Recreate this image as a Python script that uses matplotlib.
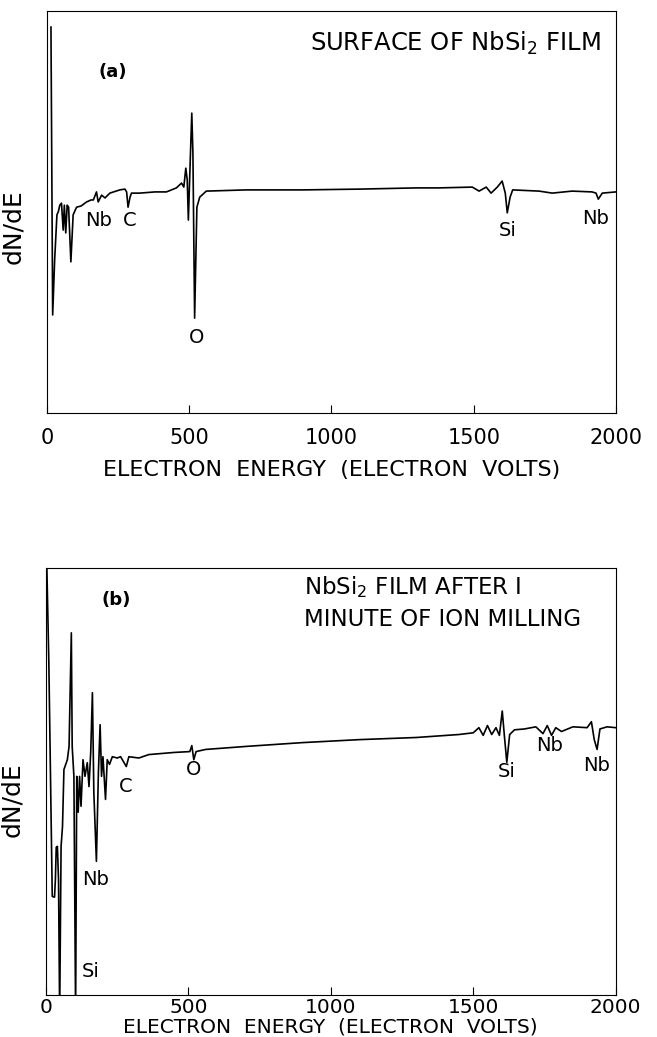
import matplotlib
matplotlib.use("Agg")
import matplotlib.pyplot as plt

# (a) surface of NbSi2 film: energy (eV) and dN/dE (arbitrary units, 0-100)
energy_a = [14, 20, 27, 35, 40, 45, 51, 57, 61, 66, 71, 76, 84, 92, 104, 120, 139, 155,
            163, 174, 180, 192, 204, 221, 256, 274, 280, 285, 292, 297, 326, 380, 420,
            455, 473, 481, 488, 493, 497, 504, 509, 513, 519, 527, 537, 560, 700, 900,
            1100, 1300, 1379, 1495, 1519, 1544, 1561, 1583, 1600, 1611, 1618, 1628,
            1637, 1730, 1776, 1846, 1916, 1930, 1938, 1952, 2000]
dnde_a = [96.0, 24.4, 38.1, 49.3, 50.1, 51.7, 52.2, 45.5, 51.7, 44.8, 51.7, 51.2, 37.6,
          49.3, 51.2, 51.5, 52.5, 53.0, 53.0, 55.0, 52.5, 54.2, 53.5, 54.7, 55.5, 55.7,
          55.0, 51.2, 53.7, 54.7, 54.7, 55.0, 55.0, 56.0, 57.2, 56.2, 60.9, 58.0, 48.0,
          63.7, 74.6, 64.7, 23.6, 51.2, 53.7, 55.2, 55.5, 55.5, 55.7, 56.0, 56.0, 56.2,
          55.2, 56.2, 54.7, 56.2, 57.7, 54.7, 49.8, 53.7, 55.5, 55.2, 54.7, 55.2, 55.0,
          54.7, 53.2, 54.7, 55.0]

# (b) after 1 minute of ion milling
energy_b = [0, 3, 10, 22, 30, 33, 36, 40, 44, 48, 53, 58, 63, 75, 81, 89, 92, 98, 104,
            108, 113, 118, 123, 130, 137, 145, 151, 157, 163, 168, 177, 184, 190, 195,
            200, 209, 215, 223, 233, 250, 262, 282, 291, 326, 361, 450, 505, 512, 519,
            527, 560, 700, 900, 1100, 1300, 1450, 1500, 1520, 1535, 1550, 1565, 1580,
            1592, 1602, 1610, 1618, 1628, 1645, 1680, 1720, 1745, 1760, 1775, 1790, 1810,
            1850, 1900, 1915, 1925, 1935, 1945, 1970, 2000]
dnde_b = [115, 100.2, 77.8, 23.1, 22.9, 27.1, 34.6, 34.8, 27.1, -5, 34.8, 39.5, 52.8,
          55.1, 58.2, 84.8, 58.2, 51.2, -5, 51.2, 42.8, 51.2, 44.2, 55.1, 51.2, 54.4,
          48.8, 56.8, 70.8, 47.4, 31.3, 52.1, 63.3, 51.2, 55.8, 45.8, 55.1, 54.0, 55.8,
          55.5, 55.8, 53.5, 55.8, 55.5, 56.3, 56.8, 57.0, 58.4, 55.1, 57.0, 57.5, 58.2,
          59.1, 59.8, 60.3, 61.0, 61.4, 62.6, 60.8, 63.1, 61.0, 62.6, 60.8, 66.5, 60.3,
          54.5, 61.0, 62.1, 62.3, 62.8, 61.2, 63.1, 60.8, 62.6, 61.7, 62.8, 62.6, 64.0,
          59.8, 57.5, 62.3, 62.8, 62.6]

ticks = [0, 500, 1000, 1500, 2000]

plt.rcParams['font.family'] = 'DejaVu Sans'
plt.rcParams['mathtext.default'] = 'regular'

fig = plt.figure(figsize=(6.57, 10.37), dpi=100)
ax1 = fig.add_axes([0.0715, 0.6017, 0.866, 0.3877])
ax2 = fig.add_axes([0.070, 0.0405, 0.867, 0.4118])

for ax in (ax1, ax2):
    ax.set_xlim(0, 2000)
    ax.set_ylim(0, 100)
    ax.set_yticks([])
    ax.set_xticks(ticks)
    for s in ax.spines.values():
        s.set_linewidth(0.8)
    ax.tick_params(axis='x', direction='in', length=6, width=0.8, labelsize=15)
    ax.set_ylabel("dN/dE", fontsize=18)

ax1.set_xlabel("ELECTRON  ENERGY  (ELECTRON  VOLTS)", fontsize=16, va='center')
ax2.set_xlabel("ELECTRON  ENERGY  (ELECTRON  VOLTS)", fontsize=14.5, va='center')
ax1.tick_params(axis='x', pad=11)
ax2.tick_params(axis='x', pad=2, labelsize=14.5)
ax1.yaxis.set_label_coords(-0.039, 0.463)
ax2.yaxis.set_label_coords(-0.039, 0.458)
ax1.xaxis.set_label_coords(0.5, -0.142)
ax2.xaxis.set_label_coords(0.5, -0.074)

ax1.plot(energy_a, dnde_a, color='black', lw=1.2)
ax2.plot(energy_b, dnde_b, color='black', lw=1.2)

# panel (a) labels
ax1.text(232, 84.8, "(a)", fontsize=13, fontweight='bold', ha='center', va='center')
ax1.text(923, 92.0, "SURFACE OF NbSi$_2$ FILM", fontsize=17.5, ha='left', va='center')
ax1.text(182, 48.0, "Nb", fontsize=14, ha='center', va='center')
ax1.text(291, 48.0, "C", fontsize=14, ha='center', va='center')
ax1.text(526, 18.7, "O", fontsize=14, ha='center', va='center')
ax1.text(1618, 45.5, "Si", fontsize=14, ha='center', va='center')
ax1.text(1930, 48.5, "Nb", fontsize=14, ha='center', va='center')

# panel (b) labels
ax2.text(246, 92.5, "(b)", fontsize=13, fontweight='bold', ha='center', va='center')
ax2.text(905, 95.6, "NbSi$_2$ FILM AFTER I", fontsize=16.5, ha='left', va='center')
ax2.text(905, 87.9, "MINUTE OF ION MILLING", fontsize=16.5, ha='left', va='center')
ax2.text(281, 48.8, "C", fontsize=14, ha='center', va='center')
ax2.text(519, 52.8, "O", fontsize=14, ha='center', va='center')
ax2.text(175, 27.0, "Nb", fontsize=14, ha='center', va='center')
ax2.text(158, 5.4, "Si", fontsize=14, ha='center', va='center')
ax2.text(1618, 52.3, "Si", fontsize=14, ha='center', va='center')
ax2.text(1768, 58.5, "Nb", fontsize=14, ha='center', va='center')
ax2.text(1933, 53.7, "Nb", fontsize=14, ha='center', va='center')

fig.savefig("out.png", dpi=100)
